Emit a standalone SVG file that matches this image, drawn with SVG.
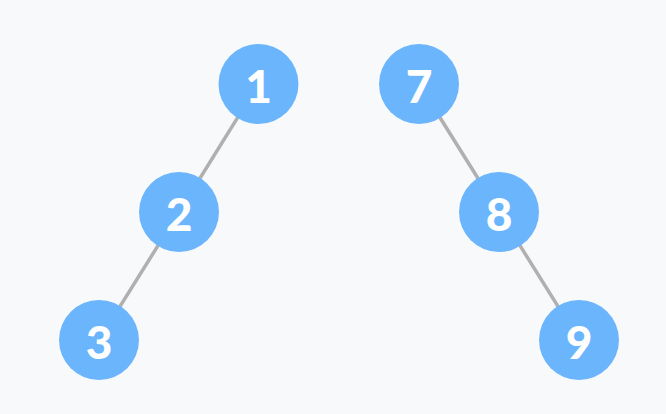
<svg xmlns="http://www.w3.org/2000/svg" width="666" height="414" viewBox="0 0 666 414">
<style>
.n{fill:#6bb5fd}
.t{fill:#fff;font-family:Lato,"Open Sans",sans-serif;font-weight:900;font-size:46px;text-anchor:middle;dominant-baseline:central}
.e{stroke:#b0b0b0;stroke-width:3.5;fill:none}
</style>
<rect width="666" height="414" fill="#f8f9fb"/>
<g id="edges">
<line class="e" x1="258.5" y1="84" x2="179" y2="212"/>
<line class="e" x1="179" y1="212" x2="99" y2="340"/>
<line class="e" x1="419" y1="84" x2="499" y2="212"/>
<line class="e" x1="499" y1="212" x2="579" y2="340"/>
</g>
<g id="n1"><circle class="n" cx="258.5" cy="84" r="40"/><text class="t" x="258.5" y="85">1</text></g>
<g id="n2"><circle class="n" cx="179" cy="212" r="40"/><text class="t" x="179" y="213">2</text></g>
<g id="n3"><circle class="n" cx="99" cy="340" r="40"/><text class="t" x="99" y="341">3</text></g>
<g id="n7"><circle class="n" cx="419" cy="84" r="40"/><text class="t" x="419" y="85">7</text></g>
<g id="n8"><circle class="n" cx="499" cy="212" r="40"/><text class="t" x="499" y="213">8</text></g>
<g id="n9"><circle class="n" cx="579" cy="340" r="40"/><text class="t" x="579" y="341">9</text></g>
</svg>
